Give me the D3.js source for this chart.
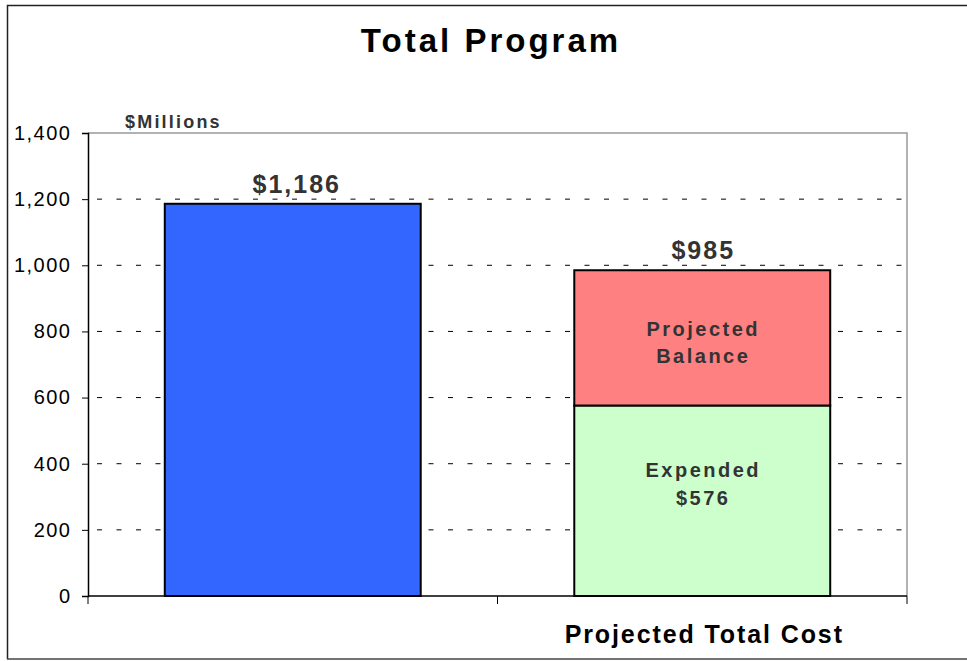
<!DOCTYPE html>
<meta charset="utf-8">
<style>
  body { margin: 0; background: #fff; }
  text { font-family: "Liberation Sans", Arial, sans-serif; }
</style>
<body>
<script src="https://d3js.org/d3.v7.min.js"></script>
<script>
  // data
  const categories = ["", "Projected Total Cost"];
  const totalProgram = [1186, 0];
  const expended = [0, 576];
  const projectedBalance = [0, 409];
  const totalLabels = ["$1,186", "$985"];
  const yTicks = [0, 200, 400, 600, 800, 1000, 1200, 1400];

  const W = 967, H = 661;

  const svg = d3.select("body").append("svg")
    .attr("width", W).attr("height", H);

  // outer frame
  svg.append("path")
    .attr("d", "M7.5," + (H - 2) + "V5.5H" + (W + 5))
    .attr("fill", "none").attr("stroke", "#222").attr("stroke-width", 1.5);
  svg.append("line")
    .attr("x1", 7).attr("x2", W).attr("y1", H - 2).attr("y2", H - 2)
    .attr("stroke", "#444").attr("stroke-width", 1.5);

  const x = d3.scaleBand().domain(categories).range([88, 907]).paddingInner(0).paddingOuter(0);
  const y = d3.scaleLinear().domain([0, 1400]).range([596, 133]);
  const barW = x.bandwidth() * 0.625;

  // plot border (top & right)
  svg.append("path")
    .attr("d", `M88,${y(1400)}H${x.range()[1]}V${y(0)}`)
    .attr("fill", "none").attr("stroke", "#999").attr("stroke-width", 1.5);

  // gridlines
  svg.append("g").selectAll("line")
    .data(yTicks.filter(d => d > 0 && d < 1400))
    .join("line")
    .attr("x1", 88).attr("x2", 907)
    .attr("y1", d => y(d)).attr("y2", d => y(d))
    .attr("stroke", "#000").attr("stroke-width", 1)
    .attr("stroke-dasharray", "5,14.5")
    .attr("stroke-dashoffset", -9);

  // y axis
  const yAxis = svg.append("g")
    .attr("transform", "translate(88,0)")
    .call(d3.axisLeft(y).tickValues(yTicks).tickSize(6).tickPadding(10.5).tickFormat(d3.format(",")));
  yAxis.select(".domain").attr("stroke", "#000").attr("stroke-width", 1.5);
  yAxis.selectAll(".tick line").attr("stroke", "#000");
  yAxis.selectAll("text").attr("font-size", 20).attr("fill", "#000")
    .attr("letter-spacing", 1.5)
    .style("font-family", "'Liberation Sans', Arial, sans-serif");

  // bars
  const bx = c => x(c) + (x.bandwidth() - barW) / 2;
  const g = svg.append("g");
  g.selectAll(".total").data(categories.filter((c, i) => totalProgram[i] > 0))
    .join("rect")
    .attr("x", bx).attr("width", barW)
    .attr("y", c => y(totalProgram[categories.indexOf(c)]))
    .attr("height", c => y(0) - y(totalProgram[categories.indexOf(c)]))
    .attr("fill", "#3366FF").attr("stroke", "#000").attr("stroke-width", 2);

  g.selectAll(".exp").data(categories.filter((c, i) => expended[i] > 0))
    .join("rect")
    .attr("x", bx).attr("width", barW)
    .attr("y", c => y(expended[categories.indexOf(c)]))
    .attr("height", c => y(0) - y(expended[categories.indexOf(c)]))
    .attr("fill", "#CCFFCC").attr("stroke", "#000").attr("stroke-width", 2);

  g.selectAll(".bal").data(categories.filter((c, i) => projectedBalance[i] > 0))
    .join("rect")
    .attr("x", bx).attr("width", barW)
    .attr("y", c => { const i = categories.indexOf(c); return y(expended[i] + projectedBalance[i]); })
    .attr("height", c => { const i = categories.indexOf(c); return y(expended[i]) - y(expended[i] + projectedBalance[i]); })
    .attr("fill", "#FF8080").attr("stroke", "#000").attr("stroke-width", 2);

  // x axis
  svg.append("line")
    .attr("x1", 88).attr("x2", 907).attr("y1", y(0)).attr("y2", y(0))
    .attr("stroke", "#000").attr("stroke-width", 1.5);
  svg.append("g").selectAll("line")
    .data([88, x(categories[1]), 907])
    .join("line")
    .attr("x1", d => d).attr("x2", d => d)
    .attr("y1", y(0)).attr("y2", y(0) + 8)
    .attr("stroke", "#000").attr("stroke-width", 1);

  svg.append("g").selectAll("text").data(categories)
    .join("text")
    .attr("x", c => x(c) + x.bandwidth() / 2 + 2)
    .attr("y", 643)
    .attr("text-anchor", "middle")
    .attr("font-size", 25).attr("font-weight", "bold")
    .attr("letter-spacing", 1.9)
    .text(c => c);

  // total labels
  svg.append("g").selectAll("text").data(categories)
    .join("text")
    .attr("x", (c, i) => x(c) + x.bandwidth() / 2 + (i === 0 ? 4 : 1))
    .attr("y", (c, i) => y(totalProgram[i] + expended[i] + projectedBalance[i]) - 11)
    .attr("text-anchor", "middle")
    .attr("font-size", 25).attr("font-weight", "bold").attr("fill", "#333")
    .attr("letter-spacing", 2)
    .text((c, i) => totalLabels[i]);

  // in-bar labels
  const cx2 = x(categories[1]) + x.bandwidth() / 2 + 1;
  const balMid = y(expended[1] + projectedBalance[1] / 2);
  const expMid = y(expended[1] / 2);
  const inner = [
    {t: "Projected", y: balMid - 2},
    {t: "Balance", y: balMid + 25},
    {t: "Expended", y: expMid - 24},
    {t: "$" + expended[1], y: expMid + 4}
  ];
  svg.append("g").selectAll("text").data(inner)
    .join("text")
    .attr("x", cx2).attr("y", d => d.y)
    .attr("text-anchor", "middle")
    .attr("font-size", 20).attr("font-weight", "bold").attr("fill", "#333")
    .attr("letter-spacing", 2.5)
    .text(d => d.t);

  // title & unit
  svg.append("text")
    .attr("x", 491).attr("y", 52)
    .attr("text-anchor", "middle")
    .attr("font-size", 33).attr("font-weight", "bold")
    .attr("letter-spacing", 3)
    .text("Total Program");
  svg.append("text")
    .attr("x", 125).attr("y", 128)
    .attr("font-size", 18).attr("font-weight", "bold").attr("fill", "#333")
    .attr("letter-spacing", 2.2)
    .text("$Millions");
</script>
</body>
